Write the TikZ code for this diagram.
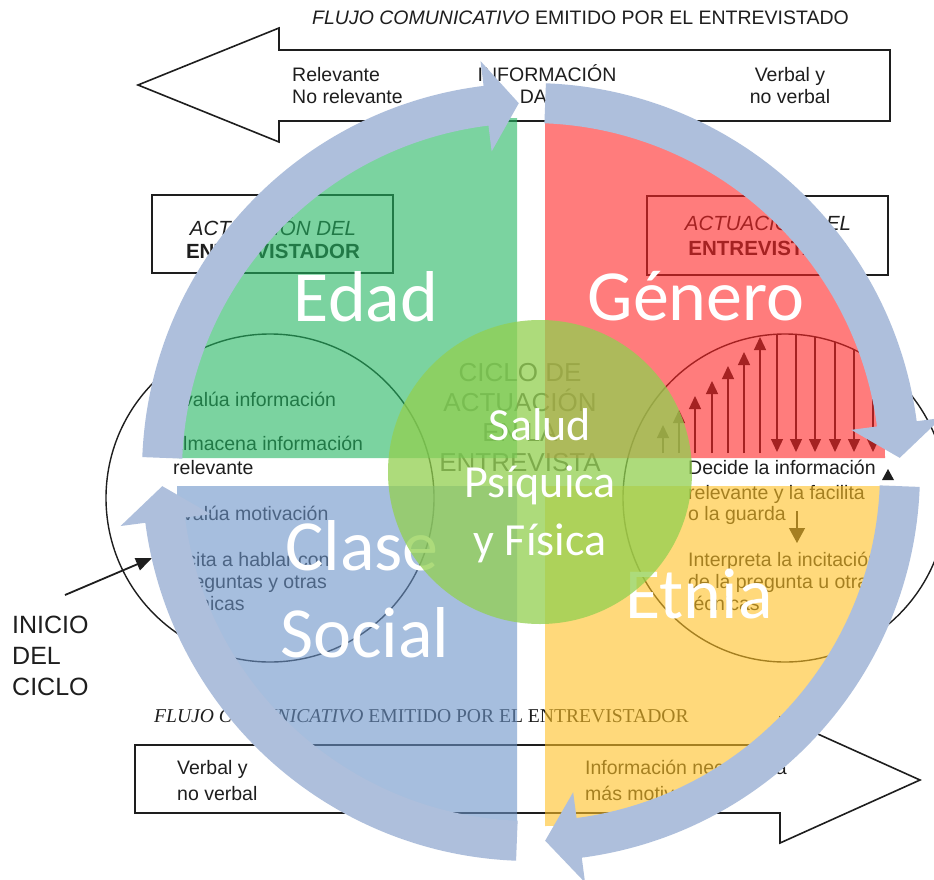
\documentclass[tikz,border=0pt]{standalone}
\usepackage{fontspec}
\setmainfont{Liberation Sans}
\newfontfamily\serifrm{Liberation Serif}
\newfontfamily\calib{Carlito}
\usetikzlibrary{calc,arrows.meta}
\definecolor{scan}{RGB}{30,30,30}
\definecolor{ringc}{RGB}{174,191,220}
\definecolor{qgreen}{RGB}{35,182,98}
\definecolor{qred}{RGB}{255,37,37}
\definecolor{qblue}{RGB}{107,147,200}
\definecolor{qyellow}{RGB}{255,193,35}
\definecolor{cgreen}{RGB}{146,208,80}
\newcommand\ringpiece[3]{%
  \fill[ringc] ($(O)+(#1:389)$) arc[start angle=#1, end angle=#2, radius=389]
    -- ($(O)+(#2:414)$) -- ($(O)+(#3:369)$) -- ($(O)+(#2:323)$) -- ($(O)+(#2:349)$)
    arc[start angle=#2, end angle=#1, radius=349] -- cycle;}
\begin{document}
\begin{tikzpicture}[x=1pt,y=-1pt,
  scantxt/.style={font=\fontsize{19.5}{23}\selectfont, text=scan, inner sep=0pt, anchor=base west},
  scanline/.style={draw=scan, line width=1.6pt, line join=miter},
  boxtxt/.style={font=\fontsize{20.5}{24}\selectfont, text=scan, inner sep=0pt, anchor=base},
  ciclotxt/.style={font=\fontsize{26}{30}\selectfont, text=black!75, inner sep=0pt, anchor=base},
  quad/.style={fill opacity=0.6},
  big/.style={font=\calib\fontsize{72}{80}\selectfont, text=white, inner sep=0pt, anchor=base},
  mid/.style={font=\calib\fontsize{46}{50}\selectfont, text=white, inner sep=0pt, anchor=base},
  uparr/.style={draw=scan, line width=1.3pt, -{Triangle[width=12pt,length=13pt]}},
]
\useasboundingbox (0,0) rectangle (934,880);
\fill[white] (0,0) rectangle (934,880);

% ---------- scanned diagram (background) ----------
\node[scantxt] (ttl) at (312,25) {\textit{FLUJO COMUNICATIVO} EMITIDO POR EL ENTREVISTADO};
\draw[scanline] (890,50) -- (279,50) -- (279,28) -- (138,85) -- (279,142) -- (279,121) -- (890,121) -- cycle;
\node[scantxt] (rel) at (292,82) {Relevante};
\node[scantxt] (norel) at (292,104) {No relevante};
\node[scantxt, anchor=base] (info) at (547,82) {INFORMACIÓN};
\node[scantxt, anchor=base] (dada) at (547,104) {DADA};
\node[scantxt, anchor=base] (verb) at (790,82) {Verbal y};
\node[scantxt, anchor=base] (noverb) at (790,104) {no verbal};

\node[draw=scan, line width=1.5pt, minimum width=241pt, minimum height=78pt, inner sep=0pt] (boxL) at (272.5,234) {};
\node[boxtxt] (bl1) at (273,235) {\textit{ACTUACIÓN DEL}};
\node[boxtxt] (bl2) at (273,258) {\textbf{ENTREVISTADOR}};
\node[draw=scan, line width=1.5pt, minimum width=241pt, minimum height=79pt, inner sep=0pt] (boxR) at (767.5,235.5) {};
\node[boxtxt] (br1) at (768,230) {\textit{ACTUACIÓN DEL}};
\node[boxtxt] (br2) at (768,255) {\textbf{ENTREVISTADO}};

\draw[scan, line width=1.4pt] (270,498) circle[radius=164];
\draw[scan, line width=1.4pt] (785,498) ellipse[x radius=162, y radius=164];

\node[ciclotxt] (c1) at (520,381) {CICLO DE};
\node[ciclotxt] (c2) at (520,411) {ACTUACIÓN};
\node[ciclotxt] (c3) at (520,441) {EN LA};
\node[ciclotxt] (c4) at (520,471) {ENTREVISTA};

\node[scantxt] (l1) at (170,406) {Evalúa información};
\node[scantxt] (l2) at (170,450) {Almacena información};
\node[scantxt] (l3) at (173,474) {relevante};
\node[scantxt] (l4) at (170,520) {Evalúa motivación};
\node[scantxt] (l5) at (170,566) {Incita a hablar con};
\node[scantxt] (l6) at (176,588) {preguntas y otras};
\node[scantxt] (l7) at (173,610) {técnicas};

\node[scantxt] (r1) at (688,474) {Decide la información};
\fill[scan] (882,480) -- (894,480) -- (888,469) -- cycle;
\node[scantxt] (r2) at (688,499) {relevante y la facilita};
\node[scantxt] (r3) at (688,520) {o la guarda};
\draw[uparr, -{Triangle[width=16pt,length=15pt]}] (797,511) -- (797,543);
\node[scantxt] (r4) at (688,566) {Interpreta la incitación};
\node[scantxt] (r5) at (688,588) {de la pregunta u otras};
\node[scantxt] (r6) at (688,610) {técnicas};

% staircase arrows (up) and falling arrows (down)
\foreach \xx/\yy in {663/425,679/410,695/396,712/381,728/366,744/352,760/337}
  \draw[uparr] (\xx,453) -- (\xx,\yy);
\foreach \xx/\yy in {777/334,796/335,815/337,835/342,854/350,873/360}
  \draw[uparr] (\xx,\yy) -- (\xx,452);

\node[scantxt, font=\fontsize{25}{30}\selectfont] (inicio) at (12,633) {INICIO};
\node[scantxt, font=\fontsize{25}{30}\selectfont] (del) at (12,664) {DEL};
\node[scantxt, font=\fontsize{25}{30}\selectfont] (ciclo) at (12,695) {CICLO};
\coordinate (ia) at (65,595);
\coordinate (ib) at (152,558);
\draw[draw=scan, line width=1.8pt, -{Triangle[width=13pt,length=16pt]}] (ia) -- (ib);

\node[font=\serifrm\fontsize{19.6}{23}\selectfont, text=scan, inner sep=0pt, anchor=base west] (ttl2) at (154,722) {\textit{FLUJO COMUNICATIVO} EMITIDO POR EL ENTREVISTADOR};
\draw[scanline] (135,745) -- (780,745) -- (780,717) -- (920,780) -- (780,843) -- (780,813) -- (135,813) -- cycle;
\node[scantxt] (bv1) at (177,774) {Verbal y};
\node[scantxt] (bv2) at (177,800) {no verbal};
\node[scantxt] (bi1) at (585,774) {Información necesitada};
\node[scantxt] (bi2) at (585,800) {más motivación};

% ---------- quadrants ----------
\fill[qgreen, quad] (517,458) -- ++(-340,0) arc[start angle=180, end angle=270, radius=340] -- cycle;
\fill[qred, quad] (545,458) -- ++(0,-340) arc[start angle=270, end angle=360, radius=340] -- cycle;
\fill[qyellow, quad] (545,486) -- ++(340,0) arc[start angle=0, end angle=90, radius=340] -- cycle;
\fill[qblue, quad] (517,486) -- ++(0,340) arc[start angle=90, end angle=180, radius=340] -- cycle;

\node[big] (edad) at (366,321) {Edad};
\node[big] (genero) at (696,320) {Género};
\node[big] (clase) at (362,570) {Clase};
\node[big] (social) at (365,657) {Social};
\node[big] (etnia) at (699,618) {Etnia};

% ---------- centre circle ----------
\fill[cgreen, fill opacity=0.75] (540,472) circle[radius=152];
\node[mid] (salud) at (540,440) {Salud};
\node[mid] (psiq) at (540,497) {Psíquica};
\node[mid] (fis) at (540,555) {y Física};

% ---------- ring of arrows ----------
\coordinate (O) at (531,472);
\ringpiece{182.2}{263}{268.1}
\ringpiece{272.2}{352.5}{357.8}
\ringpiece{2.2}{82.5}{87.8}
\ringpiece{92.2}{172.5}{177.8}
\end{tikzpicture}
\end{document}
